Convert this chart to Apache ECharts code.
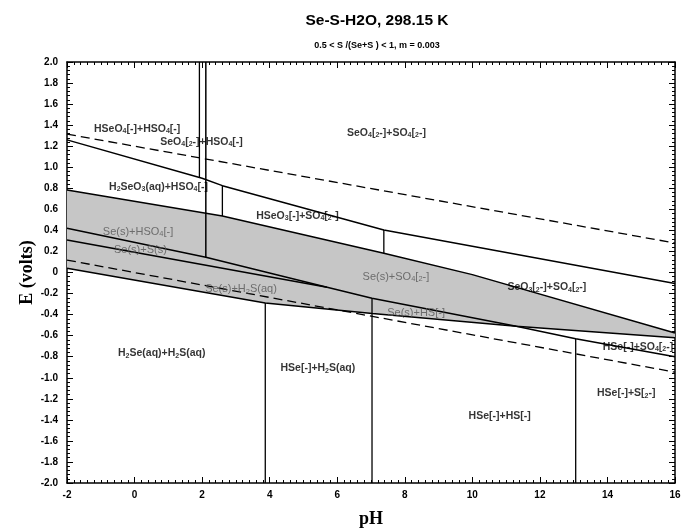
<!DOCTYPE html>
<html>
<head>
<meta charset="utf-8">
<script src="https://cdn.jsdelivr.net/npm/echarts@6/dist/echarts.min.js"></script>
<style>html,body{margin:0;padding:0;background:#fff}#c{width:684px;height:532px}</style>
</head>
<body>
<div id="c"></div>
<script>
// ---- data (pH, E in volts) ----
const phTicks = [-2, 0, 2, 4, 6, 8, 10, 12, 14, 16];
const eTicks = [-2.0, -1.8, -1.6, -1.4, -1.2, -1.0, -0.8, -0.6, -0.4, -0.2, 0, 0.2, 0.4, 0.6, 0.8, 1.0, 1.2, 1.4, 1.6, 1.8, 2.0];

const waterUpper = [[-2, 1.315], [16, 0.28]];
const waterLower = [[-2, 0.118], [16, -0.947]];

const topBoundary = [[-2, 1.26], [2.0, 0.895], [2.6, 0.825], [7.38, 0.404], [16, -0.105]];
const seTop = [[-2, 0.784], [2.6, 0.537], [7.38, 0.182], [10, -0.02], [16, -0.575]];
const seBottom = [[-2, 0.04], [3.87, -0.29], [7.04, -0.39], [11.3, -0.51], [16, -0.62]];
const sulfurUpper = [[-2, 0.42], [2.11, 0.144], [5.7, -0.14]];
const sulfurLower = [[-2, 0.309], [5.7, -0.14]];
const sulfateSulfide = [[5.7, -0.14], [7.03, -0.245], [11.3, -0.51], [13.06, -0.63], [16, -0.80]];

const vert1 = [[1.92, 2.0], [1.92, 0.90]];
const vert2 = [[2.11, 2.0], [2.11, 0.144]];
const vert3 = [[2.6, 0.825], [2.6, 0.537]];
const vert4 = [[7.38, 0.404], [7.38, 0.182]];
const vert5 = [[3.87, -0.29], [3.87, -2.0]];
const vert6 = [[7.03, -0.245], [7.03, -2.0]];
const vert7 = [[13.06, -0.63], [13.06, -2.0]];

const labelTexts = [
  'HSeO{s|4}[-]+HSO{s|4}[-]',
  'SeO{s|4}[{s|2}-]+HSO{s|4}[-]',
  'SeO{s|4}[{s|2}-]+SO{s|4}[{s|2}-]',
  'H{s|2}SeO{s|3}(aq)+HSO{s|4}[-]',
  'HSeO{s|3}[-]+SO{s|4}[{s|2}-]',
  'SeO{s|3}[{s|2}-]+SO{s|4}[{s|2}-]',
  'HSe[-]+SO{s|4}[{s|2}-]',
  'H{s|2}Se(aq)+H{s|2}S(aq)',
  'HSe[-]+H{s|2}S(aq)',
  'HSe[-]+S[{s|2}-]',
  'HSe[-]+HS[-]'
];
const labelPH = [-1.2, 0.76, 6.29, -0.755, 3.6, 11.04, 13.86, -0.49, 4.32, 13.69, 9.89];
const labelE  = [1.363, 1.243, 1.325, 0.815, 0.537, -0.141, -0.705, -0.768, -0.91, -1.148, -1.363];

const solidTexts = ['Se(s)+HSO{s|4}[-]', 'Se(s)+S(s)', 'Se(s)+SO{s|4}[{s|2}-]', 'Se(s)+H{s|2}S(aq)', 'Se(s)+HS[-]'];
const solidPH = [-0.94, -0.61, 6.75, 2.09, 7.48];
const solidE  = [0.388, 0.214, -0.04, -0.16, -0.382];

// ---- chart ----
const chart = echarts.init(document.getElementById('c'), null, {renderer: 'canvas'});
const grayPoly = seTop.concat(seBottom.slice().reverse());

function lineSeries(data, dashed, width) {
  return {
    type: 'line', data: data, showSymbol: false, symbol: 'none', silent: true, z: 3,
    lineStyle: {color: '#000', width: width || 1.5, type: dashed ? [9, 5] : 'solid'},
    animation: false
  };
}

const series = [
  {
    type: 'custom', data: grayPoly, z: 1, silent: true, animation: false,
    renderItem: function (params, api) {
      if (params.dataIndex !== 0) return {type: 'group', children: []};
      const pts = grayPoly.map(p => api.coord(p));
      return {type: 'polygon', shape: {points: pts}, style: {fill: '#c6c6c6'}};
    }
  },
  lineSeries(waterUpper, true, 1.3),
  lineSeries(waterLower, true, 1.3),
  lineSeries(topBoundary),
  lineSeries(seTop),
  lineSeries(seBottom),
  lineSeries(sulfurUpper),
  lineSeries(sulfurLower),
  lineSeries(sulfateSulfide),
  lineSeries(vert1, false, 1.3),
  lineSeries(vert2, false, 1.5),
  lineSeries(vert3, false, 1.3),
  lineSeries(vert4, false, 1.3),
  lineSeries(vert5, false, 1.3),
  lineSeries(vert6, false, 1.3),
  lineSeries(vert7, false, 1.3),
  {
    type: 'scatter', symbolSize: 0, silent: true, z: 5, animation: false,
    data: labelTexts.map((t, i) => ({value: [labelPH[i], labelE[i]], name: t})),
    label: {
      show: true, position: [0, 0], align: 'left', verticalAlign: 'middle',
      formatter: p => p.name,
      color: '#000', fontFamily: 'Liberation Sans', fontWeight: 'bold', fontSize: 10.5,
      rich: {s: {fontSize: 7, fontWeight: 'bold', color: '#000', fontFamily: 'Liberation Sans', padding: [5, 0, 0, 0]}}
    }
  },
  {
    type: 'scatter', symbolSize: 0, silent: true, z: 5, animation: false,
    data: solidTexts.map((t, i) => ({value: [solidPH[i], solidE[i]], name: t})),
    label: {
      show: true, position: [0, 0], align: 'left', verticalAlign: 'middle',
      formatter: p => p.name,
      color: '#555', fontFamily: 'Liberation Sans', fontWeight: 'normal', fontSize: 11,
      rich: {s: {fontSize: 7.5, color: '#555', fontFamily: 'Liberation Sans', padding: [5, 0, 0, 0]}}
    }
  }
];

const tickLabelStyle = {color: '#000', fontFamily: 'Liberation Sans', fontWeight: 'bold', fontSize: 10};

chart.setOption({
  animation: false,
  backgroundColor: '#fff',
  title: [
    {text: 'Se-S-H2O, 298.15 K', left: 372, top: 8, textAlign: 'center',
     textStyle: {fontFamily: 'Liberation Sans', fontWeight: 'bold', fontSize: 15.5, color: '#000'}},
    {text: '0.5 < S /(Se+S ) < 1, m = 0.003', left: 372, top: 36, textAlign: 'center',
     textStyle: {fontFamily: 'Liberation Sans', fontWeight: 'bold', fontSize: 9, color: '#000'}}
  ],
  grid: {left: 67, right: 9, top: 62, bottom: 49, containLabel: false, outerBoundsMode: 'none'},
  xAxis: [
    {
      type: 'value', min: -2, max: 16, interval: 2, position: 'bottom',
      name: 'pH', nameLocation: 'middle', nameGap: 27, nameMoveOverlap: false,
      nameTextStyle: {fontFamily: 'Liberation Serif', fontWeight: 'bold', fontSize: 18, color: '#000'},
      axisLine: {show: true, onZero: false, lineStyle: {color: '#000', width: 1.5}},
      axisTick: {show: true, inside: true, length: 6, lineStyle: {color: '#000'}},
      minorTick: {show: true, splitNumber: 10, length: 3, lineStyle: {color: '#000'}},
      axisLabel: Object.assign({margin: 7, formatter: v => String(v)}, tickLabelStyle),
      splitLine: {show: false}
    },
    {
      type: 'value', min: -2, max: 16, interval: 2, position: 'top',
      axisLine: {show: true, onZero: false, lineStyle: {color: '#000', width: 1.5}},
      axisTick: {show: true, inside: true, length: 6, lineStyle: {color: '#000'}},
      minorTick: {show: true, splitNumber: 10, length: 3, lineStyle: {color: '#000'}},
      axisLabel: {show: false}, splitLine: {show: false}
    }
  ],
  yAxis: [
    {
      type: 'value', min: -2, max: 2, interval: 0.2, position: 'left',
      name: 'E (volts)', nameLocation: 'middle', nameGap: 31, nameMoveOverlap: false,
      nameTextStyle: {fontFamily: 'Liberation Serif', fontWeight: 'bold', fontSize: 18, color: '#000'},
      axisLine: {show: true, onZero: false, lineStyle: {color: '#000', width: 1.5}},
      axisTick: {show: true, inside: true, length: 6, lineStyle: {color: '#000'}},
      minorTick: {show: true, splitNumber: 5, length: 3, lineStyle: {color: '#000'}},
      axisLabel: Object.assign({margin: 9, formatter: v => Math.abs(v) < 1e-9 ? '0' : v.toFixed(1)}, tickLabelStyle),
      splitLine: {show: false}
    },
    {
      type: 'value', min: -2, max: 2, interval: 0.2, position: 'right',
      axisLine: {show: true, onZero: false, lineStyle: {color: '#000', width: 1.5}},
      axisTick: {show: true, inside: true, length: 6, lineStyle: {color: '#000'}},
      minorTick: {show: true, splitNumber: 5, length: 3, lineStyle: {color: '#000'}},
      axisLabel: {show: false}, splitLine: {show: false}
    }
  ],
  series: series
});
</script>
</body>
</html>
